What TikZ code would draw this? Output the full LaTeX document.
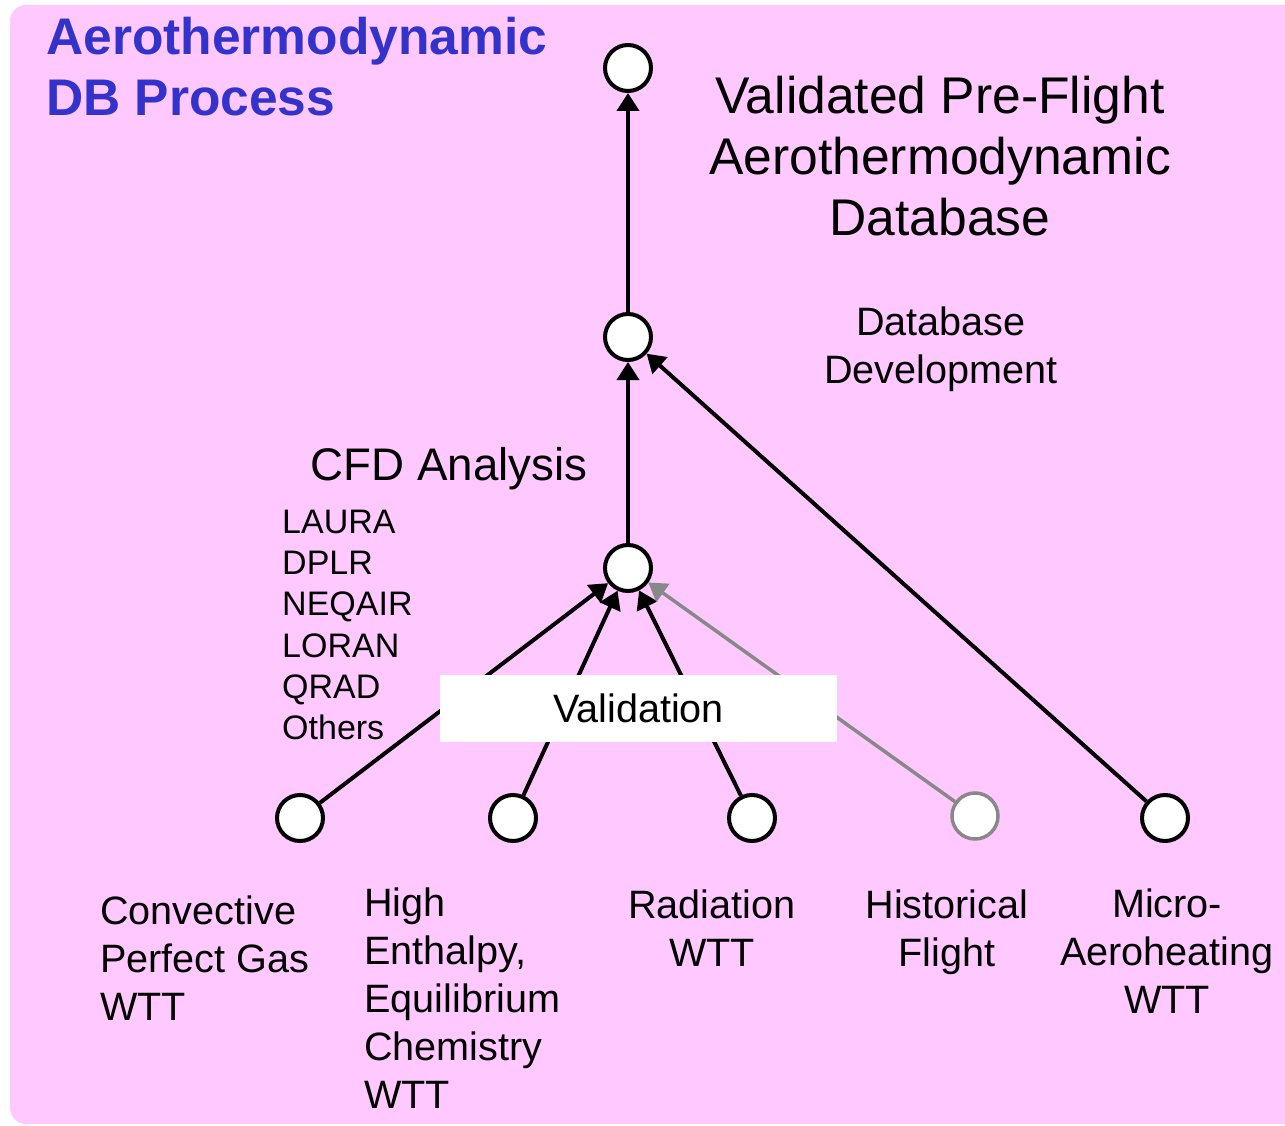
\documentclass[tikz,border=0pt]{standalone}
\usepackage{fontspec}
\setmainfont{Liberation Sans}
\usetikzlibrary{arrows.meta}
\definecolor{bgpink}{RGB}{255,200,255}
\definecolor{titleblue}{RGB}{51,51,204}
\definecolor{histgray}{RGB}{136,136,136}
\begin{document}
\begin{tikzpicture}[x=1pt, y=-1pt]
\tikzset{n/.style={circle, draw=black, fill=white, line width=4pt, minimum size=46pt, inner sep=0pt},
f/.style={-{Triangle[length=18pt, width=22pt]}, line width=4pt},
lbl/.style={inner sep=0pt, font=\fontsize{39.6}{48}\selectfont}};

\useasboundingbox (0,0) rectangle (1285,1126);
\clip (0,0) rectangle (1285,1126);
\fill[bgpink, rounded corners=16pt] (10,5) rectangle (1330,1124);

\node[inner sep=0pt, anchor=west, align=left, text=titleblue, font=\fontsize{51.5}{61}\selectfont\bfseries] (title) at (46,67) {Aerothermodynamic\\DB Process};

\node[n] (top) at (628,68) {};
\node[n] (db) at (628,337) {};
\node[n] (cfd) at (628,568) {};
\node[n] (conv) at (300,818) {};
\node[n] (high) at (513,818) {};
\node[n] (rad) at (752,818) {};
\node[n, draw=histgray, line width=3.5pt] (hist) at (975,816) {};
\node[n] (micro) at (1165,818) {};

\node[inner sep=0pt, align=center, font=\fontsize{51.6}{61}\selectfont] (vdb) at (940,156) {Validated Pre-Flight\\Aerothermodynamic\\Database};
\node[lbl, align=center] (dbdev) at (941,349) {Database\\Development};
\node[inner sep=0pt, font=\fontsize{45.7}{55}\selectfont] (cfdlbl) at (449,469) {CFD Analysis};
\node[inner sep=0pt, anchor=west, align=left, font=\fontsize{34}{41.3}\selectfont] (codes) at (282,625) {LAURA\\DPLR\\NEQAIR\\LORAN\\QRAD\\Others};

\draw[f] (db) -- (top);
\draw[f] (cfd) -- (db);
\draw[f] (micro) -- (db);
\foreach \x in {conv, high, rad} {
	\draw[f] (\x) -- (cfd);
}
\draw[f, draw=histgray, fill=histgray, line width=3.5pt] (hist) -- (cfd);

\node[fill=white, minimum width=397pt, minimum height=67pt, inner sep=0pt, font=\fontsize{39.6}{48}\selectfont] (valid) at (638.5,708.5) {Validation};

\node[lbl, anchor=west, align=left] (convlbl) at (100,958) {Convective\\Perfect Gas\\WTT};
\node[lbl, anchor=west, align=left] (highlbl) at (364,998) {High\\Enthalpy,\\Equilibrium\\Chemistry\\WTT};
\node[lbl, align=center] (radlbl) at (712,928) {Radiation\\WTT};
\node[lbl, align=center] (histlbl) at (947,932) {Historical\\Flight};
\node[lbl, align=center] (microlbl) at (1167,951) {Micro-\\Aeroheating\\WTT};

\end{tikzpicture}
\end{document}
